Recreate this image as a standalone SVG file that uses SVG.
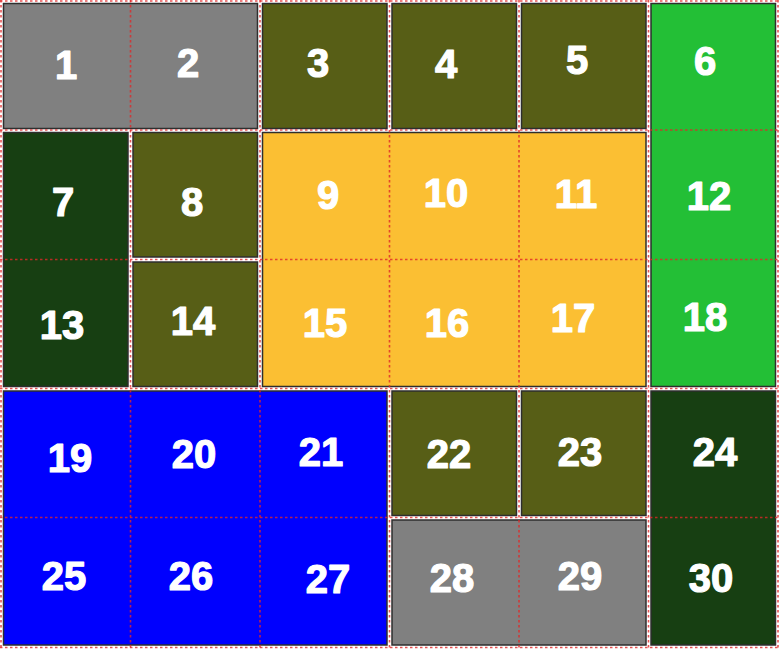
<svg xmlns="http://www.w3.org/2000/svg" width="780" height="650" viewBox="0 0 780 650">
<style>
.blk{stroke:#2e2e2e;stroke-width:1.5}
.gray{fill:#808080}.olive{fill:#575e16}.dk{fill:#173f12}.grn{fill:#23bf36}.yel{fill:#fbbf33}.blu{fill:#0000fe}
text{font-family:"Liberation Sans",Arial,sans-serif;font-weight:bold;font-size:40px;fill:#ffffff;text-anchor:middle;stroke:#ffffff;stroke-width:1.2;stroke-linejoin:round}
.grid line{stroke:#e02828;stroke-width:1.6;stroke-dasharray:2.5 2.5;stroke-opacity:0.8}
</style>
<rect x="0" y="0" width="780" height="650" fill="#ffffff"/>
<g id="b1-2"><rect class="blk gray" x="3.5" y="3.5" width="254" height="125"/><text x="66" y="79">1</text><text x="188" y="77">2</text></g>
<g id="b3"><rect class="blk olive" x="262.5" y="3.5" width="124.5" height="125"/><text x="318" y="77">3</text></g>
<g id="b4"><rect class="blk olive" x="392" y="3.5" width="124.5" height="125"/><text x="446" y="78">4</text></g>
<g id="b5"><rect class="blk olive" x="521.5" y="3.5" width="124.5" height="125"/><text x="577" y="74">5</text></g>
<g id="b6-12-18"><rect class="blk grn" x="651" y="3.5" width="124.5" height="383"/><text x="705" y="75">6</text><text x="709" y="210">12</text><text x="705" y="331">18</text></g>
<g id="b7-13"><rect class="blk dk" x="3.5" y="132.5" width="124.5" height="254"/><text x="63" y="216">7</text><text x="62" y="339">13</text></g>
<g id="b8"><rect class="blk olive" x="133" y="132.5" width="124.5" height="124.5"/><text x="192" y="216">8</text></g>
<g id="b14"><rect class="blk olive" x="133" y="262" width="124.5" height="124.5"/><text x="193" y="335">14</text></g>
<g id="b9-17"><rect class="blk yel" x="262.5" y="132.5" width="383.5" height="254"/><text x="328" y="209">9</text><text x="446" y="207">10</text><text x="576" y="208">11</text><text x="325" y="337">15</text><text x="447" y="337">16</text><text x="573" y="332">17</text></g>
<g id="b19-27"><rect class="blk blu" x="3.5" y="391" width="383.5" height="254"/><text x="70" y="472">19</text><text x="194" y="468">20</text><text x="321" y="466">21</text><text x="64" y="590">25</text><text x="191" y="590">26</text><text x="328" y="593">27</text></g>
<g id="b22"><rect class="blk olive" x="392" y="391" width="124.5" height="124.5"/><text x="449" y="468">22</text></g>
<g id="b23"><rect class="blk olive" x="521.5" y="391" width="124.5" height="124.5"/><text x="580" y="466">23</text></g>
<g id="b24-30"><rect class="blk dk" x="651" y="391" width="124.5" height="254"/><text x="715" y="466">24</text><text x="711" y="592">30</text></g>
<g id="b28-29"><rect class="blk gray" x="392" y="520" width="254" height="125"/><text x="452" y="592">28</text><text x="580" y="590">29</text></g>
<g class="grid" id="connectors">
<line x1="1" y1="0" x2="1" y2="650"/><line x1="130.5" y1="0" x2="130.5" y2="650"/><line x1="260" y1="0" x2="260" y2="650"/><line x1="389.5" y1="0" x2="389.5" y2="650"/><line x1="519" y1="0" x2="519" y2="650"/><line x1="648.5" y1="0" x2="648.5" y2="650"/><line x1="778" y1="0" x2="778" y2="650"/>
<line x1="0" y1="1" x2="780" y2="1"/><line x1="0" y1="130" x2="780" y2="130"/><line x1="0" y1="259.5" x2="780" y2="259.5"/><line x1="0" y1="388.5" x2="780" y2="388.5"/><line x1="0" y1="517.5" x2="780" y2="517.5"/><line x1="0" y1="647.5" x2="780" y2="647.5"/>
</g>
</svg>
